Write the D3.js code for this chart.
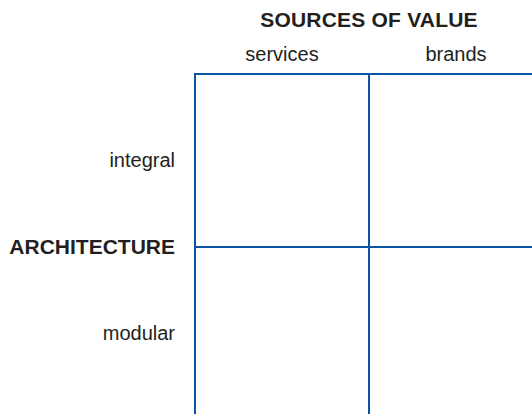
<!DOCTYPE html>
<html>
<head>
<meta charset="utf-8">
<script src="https://cdn.jsdelivr.net/npm/d3@7"></script>
<style>
  html, body { margin: 0; padding: 0; background: #fff; }
  svg { display: block; overflow: hidden; }
  text { font-family: "Liberation Sans", Arial, Helvetica, sans-serif; fill: #231f20; }
</style>
</head>
<body>
<svg id="chart" width="532" height="414"></svg>
<script>
// Data
const columns = ["services", "brands"];
const rows = ["integral", "modular"];
const columnTitle = "SOURCES OF VALUE";
const rowTitle = "ARCHITECTURE";

const svg = d3.select("#chart");
const lineColor = "#0a55a3";

const x = d3.scaleBand().domain(columns).range([195, 543]).paddingInner(0).paddingOuter(0);
const y = d3.scaleBand().domain(rows).range([74, 420]).paddingInner(0).paddingOuter(0);

const cells = [];
rows.forEach(r => columns.forEach(c => cells.push({ r, c })));

svg.append("g").selectAll("rect")
  .data(cells)
  .join("rect")
  .attr("x", d => x(d.c))
  .attr("y", d => y(d.r))
  .attr("width", x.bandwidth())
  .attr("height", y.bandwidth())
  .attr("fill", "none")
  .attr("stroke", lineColor)
  .attr("stroke-width", 2);

// Column title
const [x0, x1] = x.range();
svg.append("text")
  .attr("x", (x0 + x1) / 2)
  .attr("y", 27)
  .attr("text-anchor", "middle")
  .attr("font-size", 21)
  .attr("font-weight", "bold")
  .attr("letter-spacing", 0.2)
  .text(columnTitle);

// Column labels
svg.append("g").selectAll("text")
  .data(columns)
  .join("text")
  .attr("x", d => x(d) + x.bandwidth() / 2)
  .attr("y", 61)
  .attr("text-anchor", "middle")
  .attr("font-size", 20)
  .text(d => d);

// Row labels
svg.append("g").selectAll("text")
  .data(rows)
  .join("text")
  .attr("x", 175)
  .attr("y", d => y(d) + y.bandwidth() / 2)
  .attr("dy", "0.33em")
  .attr("text-anchor", "end")
  .attr("font-size", 20)
  .text(d => d);

// Row title
svg.append("text")
  .attr("x", 175)
  .attr("y", y(rows[1]))
  .attr("dy", "0.32em")
  .attr("text-anchor", "end")
  .attr("font-size", 21)
  .attr("font-weight", "bold")
  .text(rowTitle);
</script>
</body>
</html>
